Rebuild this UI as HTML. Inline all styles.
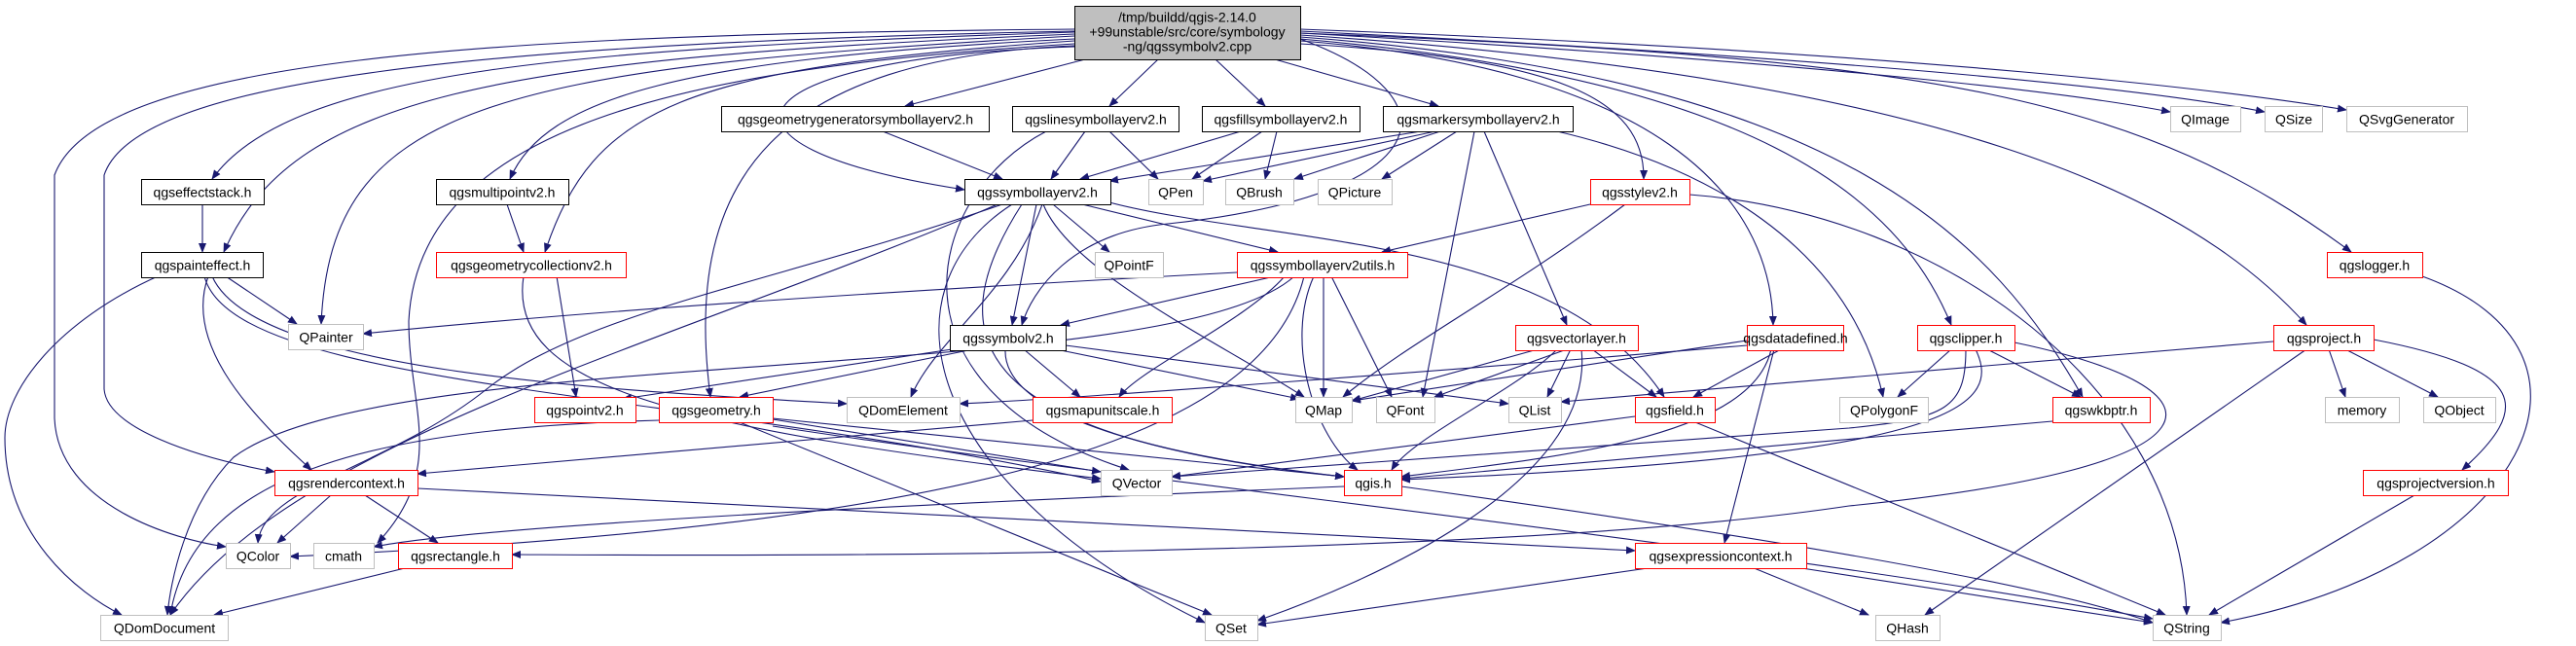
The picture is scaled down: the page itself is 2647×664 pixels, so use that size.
<!DOCTYPE html>
<html><head><meta charset="utf-8"><style>
html,body{margin:0;padding:0;background:#fff;}
svg{display:block;}
text{font-family:"Liberation Sans",sans-serif;font-size:14px;fill:#000;}
.e{fill:none;stroke:#191970;stroke-width:1.1;}
</style></head><body>
<svg width="2647" height="664" viewBox="0 0 2647 664" xmlns="http://www.w3.org/2000/svg">
<defs><marker id="a" markerWidth="10" markerHeight="8" refX="9" refY="4" orient="auto" markerUnits="userSpaceOnUse"><polygon points="0,0 10,4 0,8" fill="#191970"/></marker></defs>
<g class="e" marker-end="url(#a)">
<path d="M1115,61 L930,109"/>
<path d="M1190,61 L1140,109"/>
<path d="M1249,61 L1300,109"/>
<path d="M1310,61 L1478,109"/>
<path d="M1104,33 C600,50 300,70 218,184"/>
<path d="M1104,35 C500,60 300,100 230,259"/>
<path d="M1104,37 C500,70 340,110 330,333"/>
<path d="M1104,40 C700,60 560,100 524,184"/>
<path d="M1104,42 C700,70 610,110 560,259"/>
<path d="M1104,30 C500,35 100,60 56,180 L56,430 C60,520 180,555 232,562"/>
<path d="M1104,32 C500,45 140,80 107,180 L107,400 C110,440 200,470 282,485"/>
<path d="M1104,45 C700,70 430,130 420,330 C420,420 460,480 388,558"/>
<path d="M1104,47 C800,60 700,180 730,408"/>
<path d="M1104,48 C750,60 700,150 991,195"/>
<path d="M1336,40 C1500,100 1480,200 1200,230 C1100,240 1060,300 1050,334"/>
<path d="M1336,45 C1600,60 1690,100 1689,184"/>
<path d="M1336,42 C1700,70 1820,200 1822,334"/>
<path d="M1336,40 C1800,80 1950,200 2005,334"/>
<path d="M1336,38 C1900,80 2050,250 2140,408"/>
<path d="M1336,36 C2000,80 2250,200 2370,334"/>
<path d="M1336,34 C2000,60 2200,100 2416,259"/>
<path d="M1336,34 C1800,60 2100,90 2230,115"/>
<path d="M1336,32 C1900,60 2200,90 2327,115"/>
<path d="M1336,30 C2000,55 2300,95 2411,113"/>
<path d="M907,135 L1030,184"/>
<path d="M1115,135 L1080,184"/>
<path d="M1140,135 L1190,184"/>
<path d="M1075,135 C950,200 900,400 1160,483"/>
<path d="M1275,135 L1110,184"/>
<path d="M1297,135 L1225,184"/>
<path d="M1312,135 L1300,184"/>
<path d="M1460,135 L1140,186"/>
<path d="M1475,135 L1236,186"/>
<path d="M1480,135 L1330,184"/>
<path d="M1497,135 L1420,184"/>
<path d="M1515,135 L1462,408"/>
<path d="M1525,135 L1610,334"/>
<path d="M1600,135 C1750,170 1900,250 1935,408"/>
<path d="M208,210 L208,259"/>
<path d="M521,210 L538,259"/>
<path d="M1082,210 L1140,259"/>
<path d="M1112,210 L1313,259"/>
<path d="M1065,210 L1040,334"/>
<path d="M1071,210 C1040,300 960,350 936,408"/>
<path d="M1072,210 C1100,280 1250,350 1340,408"/>
<path d="M1140,208 C1300,250 1600,240 1710,408"/>
<path d="M1030,210 C800,290 600,320 500,400 C400,480 270,500 265,558"/>
<path d="M1025,210 C700,350 300,450 175,632"/>
<path d="M1040,210 C900,300 950,500 1238,640"/>
<path d="M1050,210 C960,350 1000,450 1381,490"/>
<path d="M1634,210 L1420,259"/>
<path d="M1670,210 C1550,300 1450,350 1380,408"/>
<path d="M1736,200 C2000,220 2240,400 2247,632"/>
<path d="M232,284 L305,333"/>
<path d="M162,284 C60,330 5,400 5,450 C5,550 80,610 125,632"/>
<path d="M214,284 C190,350 250,420 320,483"/>
<path d="M218,284 C260,380 600,400 870,415"/>
<path d="M210,284 C240,400 700,400 1131,495"/>
<path d="M572,284 L592,408"/>
<path d="M538,284 C520,400 700,440 1131,492"/>
<path d="M1271,280 C900,300 600,320 373,343"/>
<path d="M1310,284 L1090,334"/>
<path d="M1320,284 C1280,330 1170,380 1150,408"/>
<path d="M1360,284 L1360,408"/>
<path d="M1368,284 L1430,408"/>
<path d="M1350,284 C1320,350 1350,450 1395,483"/>
<path d="M1340,284 C1300,450 1000,540 298,572"/>
<path d="M1330,284 C1200,400 400,350 240,470 C190,520 175,600 172,632"/>
<path d="M1000,359 L760,408"/>
<path d="M985,358 L640,410"/>
<path d="M1052,359 L1110,408"/>
<path d="M1085,359 L1335,410"/>
<path d="M1095,355 L1550,415"/>
<path d="M1033,359 C1030,430 1200,470 1381,490"/>
<path d="M1580,359 L1389,412"/>
<path d="M1610,359 L1474,408"/>
<path d="M1614,359 L1590,408"/>
<path d="M1636,359 L1702,408"/>
<path d="M1600,359 C1560,400 1450,450 1430,483"/>
<path d="M1625,359 C1640,500 1400,600 1292,638"/>
<path d="M1795,355 C1500,380 1100,410 986,415"/>
<path d="M1830,359 L1740,408"/>
<path d="M1820,359 C1800,450 1600,470 1440,490"/>
<path d="M1823,359 L1772,558"/>
<path d="M1795,350 L1389,412"/>
<path d="M2005,359 L1950,408"/>
<path d="M2042,359 L2138,408"/>
<path d="M2020,359 C2020,420 2000,430 1900,440 L1204,490"/>
<path d="M2030,359 C2060,420 2000,470 1440,493"/>
<path d="M2070,352 C2300,400 2300,480 1900,520 C1500,580 600,570 526,570"/>
<path d="M2109,433 L1440,492"/>
<path d="M1680,428 L1204,490"/>
<path d="M1742,434 L2225,632"/>
<path d="M2336,351 L1604,413"/>
<path d="M2393,359 L2410,408"/>
<path d="M2410,359 L2505,408"/>
<path d="M2439,349 C2600,380 2600,420 2530,483"/>
<path d="M2370,359 L1978,632"/>
<path d="M2481,509 L2270,632"/>
<path d="M2489,284 C2700,360 2600,580 2282,640"/>
<path d="M1381,500 C900,520 500,540 384,562"/>
<path d="M1440,500 C1800,550 2100,600 2212,640"/>
<path d="M794,431 L1131,485"/>
<path d="M794,430 L1381,490"/>
<path d="M760,434 L1245,632"/>
<path d="M794,438 C1200,500 1800,560 2212,636"/>
<path d="M677,432 C400,440 200,480 175,632"/>
<path d="M1061,432 L429,487"/>
<path d="M340,509 L285,558"/>
<path d="M375,509 L450,558"/>
<path d="M429,502 L1680,566"/>
<path d="M420,583 L220,632"/>
<path d="M1700,583 L1292,642"/>
<path d="M1800,583 L1920,632"/>
<path d="M1845,583 L2212,640"/>
</g>
<g stroke-width="1">
<rect x="1104.5" y="6.5" width="232" height="55" fill="#bfbfbf" stroke="#000"/>
<g fill="#fff" stroke="#000">
<rect x="741.5" y="109.5" width="275" height="26"/>
<rect x="1040.5" y="109.5" width="171" height="26"/>
<rect x="1235.5" y="109.5" width="162" height="26"/>
<rect x="1421.5" y="109.5" width="195" height="26"/>
<rect x="145.5" y="184.5" width="126" height="26"/>
<rect x="448.5" y="184.5" width="136" height="26"/>
<rect x="991.5" y="184.5" width="150" height="26"/>
<rect x="145.5" y="259.5" width="125" height="26"/>
<rect x="976.5" y="334.5" width="119" height="26"/>
</g>
<g fill="#fff" stroke="#ff0000">
<rect x="1634.5" y="184.5" width="102" height="26"/>
<rect x="448.5" y="259.5" width="195" height="26"/>
<rect x="1271.5" y="259.5" width="175" height="26"/>
<rect x="2391.5" y="259.5" width="98" height="26"/>
<rect x="1557.5" y="334.5" width="126" height="26"/>
<rect x="1795.5" y="334.5" width="99" height="26"/>
<rect x="1970.5" y="334.5" width="100" height="26"/>
<rect x="2336.5" y="334.5" width="103" height="26"/>
<rect x="549.5" y="408.5" width="104" height="26"/>
<rect x="677.5" y="408.5" width="117" height="26"/>
<rect x="1061.5" y="408.5" width="143" height="26"/>
<rect x="1680.5" y="408.5" width="82" height="26"/>
<rect x="2109.5" y="408.5" width="100" height="26"/>
<rect x="282.5" y="483.5" width="147" height="26"/>
<rect x="1381.5" y="483.5" width="59" height="26"/>
<rect x="2428.5" y="483.5" width="149" height="26"/>
<rect x="409.5" y="558.5" width="117" height="26"/>
<rect x="1680.5" y="558.5" width="176" height="26"/>
</g>
<g fill="#fff" stroke="#bfbfbf">
<rect x="1180.5" y="184.5" width="56" height="26"/>
<rect x="1259.5" y="184.5" width="70" height="26"/>
<rect x="1354.5" y="184.5" width="76" height="26"/>
<rect x="1125.5" y="259.5" width="70" height="26"/>
<rect x="2230.5" y="109.5" width="72" height="26"/>
<rect x="2327.5" y="109.5" width="59" height="26"/>
<rect x="2411.5" y="109.5" width="124" height="26"/>
<rect x="296.5" y="333.5" width="77" height="26"/>
<rect x="870.5" y="408.5" width="116" height="26"/>
<rect x="1331.5" y="408.5" width="58" height="26"/>
<rect x="1414.5" y="408.5" width="60" height="26"/>
<rect x="1550.5" y="408.5" width="54" height="26"/>
<rect x="1890.5" y="408.5" width="91" height="26"/>
<rect x="2389.5" y="408.5" width="76" height="26"/>
<rect x="2490.5" y="408.5" width="74" height="26"/>
<rect x="1131.5" y="483.5" width="73" height="26"/>
<rect x="232.5" y="558.5" width="66" height="26"/>
<rect x="322.5" y="558.5" width="62" height="26"/>
<rect x="103.5" y="632.5" width="131" height="26"/>
<rect x="1238.5" y="632.5" width="54" height="26"/>
<rect x="1927.5" y="632.5" width="66" height="26"/>
<rect x="2212.5" y="632.5" width="70" height="26"/>
</g>
</g>
<g text-anchor="middle" transform="translate(0,1.5)">
<text x="1220" y="21">/tmp/buildd/qgis-2.14.0</text>
<text x="1220" y="36">+99unstable/src/core/symbology</text>
<text x="1220" y="51">-ng/qgssymbolv2.cpp</text>
<text x="879" y="126">qgsgeometrygeneratorsymbollayerv2.h</text>
<text x="1126" y="126">qgslinesymbollayerv2.h</text>
<text x="1316" y="126">qgsfillsymbollayerv2.h</text>
<text x="1519" y="126">qgsmarkersymbollayerv2.h</text>
<text x="208" y="201">qgseffectstack.h</text>
<text x="516" y="201">qgsmultipointv2.h</text>
<text x="1066" y="201">qgssymbollayerv2.h</text>
<text x="1208" y="201">QPen</text>
<text x="1294" y="201">QBrush</text>
<text x="1392" y="201">QPicture</text>
<text x="1685" y="201">qgsstylev2.h</text>
<text x="208" y="276">qgspainteffect.h</text>
<text x="546" y="276">qgsgeometrycollectionv2.h</text>
<text x="1160" y="276">QPointF</text>
<text x="1359" y="276">qgssymbollayerv2utils.h</text>
<text x="2440" y="276">qgslogger.h</text>
<text x="2266" y="126">QImage</text>
<text x="2357" y="126">QSize</text>
<text x="2473" y="126">QSvgGenerator</text>
<text x="335" y="350">QPainter</text>
<text x="1036" y="351">qgssymbolv2.h</text>
<text x="1620" y="351">qgsvectorlayer.h</text>
<text x="1845" y="351">qgsdatadefined.h</text>
<text x="2020" y="351">qgsclipper.h</text>
<text x="2388" y="351">qgsproject.h</text>
<text x="601" y="425">qgspointv2.h</text>
<text x="736" y="425">qgsgeometry.h</text>
<text x="928" y="425">QDomElement</text>
<text x="1133" y="425">qgsmapunitscale.h</text>
<text x="1360" y="425">QMap</text>
<text x="1444" y="425">QFont</text>
<text x="1577" y="425">QList</text>
<text x="1721" y="425">qgsfield.h</text>
<text x="1936" y="425">QPolygonF</text>
<text x="2159" y="425">qgswkbptr.h</text>
<text x="2427" y="425">memory</text>
<text x="2527" y="425">QObject</text>
<text x="356" y="500">qgsrendercontext.h</text>
<text x="1168" y="500">QVector</text>
<text x="1411" y="500">qgis.h</text>
<text x="2503" y="500">qgsprojectversion.h</text>
<text x="265" y="575">QColor</text>
<text x="353" y="575">cmath</text>
<text x="468" y="575">qgsrectangle.h</text>
<text x="1768" y="575">qgsexpressioncontext.h</text>
<text x="169" y="649">QDomDocument</text>
<text x="1265" y="649">QSet</text>
<text x="1960" y="649">QHash</text>
<text x="2247" y="649">QString</text>
</g>
</svg>
</body></html>
